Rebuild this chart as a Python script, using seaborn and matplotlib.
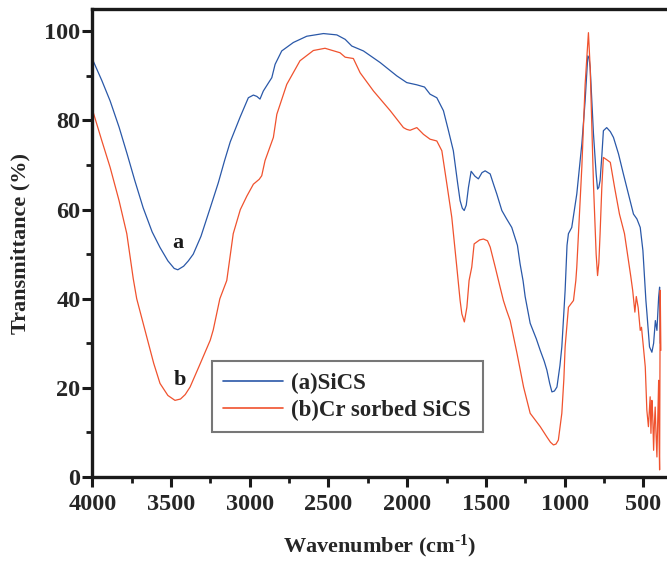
import matplotlib
matplotlib.use("Agg")
import matplotlib.pyplot as plt
import numpy as np
import pandas as pd
import seaborn as sns
from matplotlib.ticker import MultipleLocator

# ─────────────────────────────────────────────
# Data
# ─────────────────────────────────────────────
sics_wn = [
    4000, 3940, 3887, 3830, 3779, 3730, 3677, 3620, 3570, 3520, 3480, 3457,
    3420, 3390, 3359, 3310, 3251, 3200, 3160, 3124, 3062, 3009, 2977, 2955,
    2935, 2914, 2880, 2860, 2839, 2797, 2723, 2638, 2532, 2447, 2394, 2352,
    2278, 2172, 2066, 2003, 1939, 1890, 1855, 1812, 1770, 1740, 1707, 1680,
    1664, 1650, 1638, 1625, 1611, 1594, 1570, 1548, 1525, 1505, 1473, 1450,
    1431, 1399, 1370, 1336, 1300, 1283, 1264, 1251, 1219, 1180, 1155, 1130,
    1113, 1095, 1081, 1065, 1049, 1030, 1018, 1005, 997, 985, 976, 955, 923,
    891, 870, 853, 845, 838, 817, 800, 791, 783, 775, 764, 754, 733, 710,
    690, 658, 627, 595, 563, 541, 520, 503, 484, 478, 461, 446, 435, 424,
    414, 403, 397, 393,
]
sics_t = [
    93.8, 89.0, 84.4, 78.5, 72.5, 66.5, 60.4, 55.0, 51.5, 48.5, 46.8, 46.5,
    47.3, 48.5, 50.0, 54.0, 60.4, 66.0, 71.0, 75.2, 80.7, 85.1, 85.7, 85.4,
    84.8, 86.6, 88.5, 89.6, 92.6, 95.6, 97.5, 98.9, 99.5, 99.2, 98.2, 96.7,
    95.6, 93.0, 90.0, 88.5, 88.0, 87.5, 85.9, 85.1, 82.2, 78.0, 73.2, 66.0,
    62.0, 60.3, 59.8, 61.0, 65.0, 68.6, 67.5, 66.9, 68.3, 68.7, 68.0, 65.5,
    63.5, 59.8, 58.0, 56.0, 52.0, 47.8, 44.0, 40.5, 34.5, 31.0, 28.4, 26.0,
    24.0, 21.0, 19.1, 19.3, 20.2, 25.0, 29.2, 37.0, 41.9, 52.0, 54.6, 56.0,
    63.5, 74.7, 84.4, 94.5, 94.0, 91.9, 77.0, 68.0, 64.6, 65.0, 66.5, 72.0,
    77.7, 78.4, 77.5, 76.2, 72.5, 68.0, 63.5, 59.0, 57.9, 56.0, 50.8, 39.6,
    37.0, 29.2, 28.0, 30.0, 35.1, 32.9, 40.4, 42.6, 30.0,
]

cr_wn = [
    4000, 3940, 3887, 3830, 3781, 3740, 3718, 3654, 3610, 3570, 3520, 3475,
    3440, 3410, 3379, 3320, 3251, 3232, 3190, 3146, 3105, 3060, 3019, 2977,
    2940, 2924, 2903, 2850, 2828, 2765, 2681, 2596, 2522, 2427, 2394, 2342,
    2299, 2214, 2108, 2024, 2003, 1982, 1939, 1897, 1855, 1812, 1780, 1748,
    1717, 1685, 1664, 1653, 1637, 1621, 1607, 1590, 1575, 1540, 1516, 1490,
    1473, 1441, 1410, 1389, 1370, 1346, 1303, 1261, 1219, 1155, 1113, 1090,
    1071, 1055, 1040, 1018, 1005, 997, 976, 944, 929, 923, 891, 870, 849,
    838, 817, 800, 791, 783, 775, 764, 754, 733, 710, 683, 652, 620, 595,
    580, 568, 554, 545, 533, 520, 512, 500, 488, 478, 468, 457, 452, 446,
    441, 435, 430, 425, 420, 414, 408, 403, 400, 397, 393, 389,
]
cr_t = [
    82.5, 75.5, 69.5, 62.0, 54.6, 44.5, 40.0, 31.4, 25.5, 21.0, 18.3, 17.2,
    17.5, 18.5, 20.2, 25.0, 30.7, 33.0, 40.0, 44.1, 54.6, 60.0, 63.0, 65.7,
    66.8, 67.6, 71.0, 76.2, 81.4, 88.1, 93.4, 95.7, 96.2, 95.2, 94.2, 93.9,
    90.7, 86.6, 82.2, 78.4, 78.0, 77.8, 78.4, 76.9, 75.8, 75.4, 73.2, 65.7,
    58.3, 47.1, 39.6, 36.6, 34.8, 38.1, 44.1, 47.1, 52.3, 53.2, 53.4, 53.0,
    51.6, 47.1, 42.6, 39.6, 37.5, 35.1, 27.8, 20.2, 14.3, 11.3, 9.0, 7.8,
    7.2, 7.4, 8.3, 14.3, 22.0, 29.2, 38.1, 39.6, 44.1, 47.1, 69.5, 88.1,
    99.7, 91.9, 65.7, 50.0, 45.2, 48.0, 54.6, 65.0, 71.7, 71.2, 70.6, 65.0,
    59.0, 54.6, 48.6, 45.0, 41.9, 37.0, 40.5, 38.0, 32.9, 33.6, 29.2, 24.7,
    15.0, 11.3, 18.0, 9.8, 17.2, 14.0, 6.0, 12.0, 15.7, 10.0, 4.5, 14.0,
    21.7, 8.0, 1.6, 41.9, 28.4,
]

series_labels = ["(a)SiCS", "(b)Cr sorbed SiCS"]
series_colors = ["#2a58a8", "#f0522e"]

df = pd.concat(
    [
        pd.DataFrame({"wn": sics_wn, "t": sics_t, "sample": series_labels[0]}),
        pd.DataFrame({"wn": cr_wn, "t": cr_t, "sample": series_labels[1]}),
    ],
    ignore_index=True,
)

# ─────────────────────────────────────────────
# Plot
# ─────────────────────────────────────────────
sns.set_style("ticks")
plt.rcParams["font.family"] = ["Liberation Serif", "DejaVu Serif"]
plt.rcParams["font.weight"] = "bold"
plt.rcParams["axes.labelweight"] = "bold"
plt.rcParams["mathtext.fontset"] = "custom"
plt.rcParams["mathtext.rm"] = "Liberation Serif:bold"
plt.rcParams["mathtext.bf"] = "Liberation Serif:bold"
plt.rcParams["mathtext.default"] = "bf"

fig = plt.figure(figsize=(6.67, 5.62), dpi=100)
ax = fig.add_axes([0.1384, 0.1512, 0.8616, 0.8327])

sns.lineplot(
    data=df,
    x="wn",
    y="t",
    hue="sample",
    palette=dict(zip(series_labels, series_colors)),
    sort=False,
    estimator=None,
    linewidth=0.9,
    ax=ax,
)

ax.set_xlim(4000, 350)
ax.set_ylim(0, 105)
ax.xaxis.set_minor_locator(MultipleLocator(250))
ax.yaxis.set_major_locator(MultipleLocator(20))
ax.yaxis.set_minor_locator(MultipleLocator(10))
ax.set_xticks([4000, 3500, 3000, 2500, 2000, 1500, 1000, 500])

for side in ["left", "bottom", "top"]:
    ax.spines[side].set_linewidth(2.4)
    ax.spines[side].set_color("#1a1a1a")
ax.spines["right"].set_visible(False)

ax.tick_params(which="major", direction="out", length=7, width=2.2,
               labelsize=17.5, color="#1a1a1a")
ax.tick_params(which="minor", direction="out", length=4.5, width=2.0,
               color="#1a1a1a")
ax.tick_params(axis="x", which="major", pad=5)
ax.tick_params(axis="y", which="major", pad=1.5)
ax.tick_params(top=False, which="both")
for lbl in ax.get_xticklabels() + ax.get_yticklabels():
    lbl.set_fontweight("bold")

ax.set_xlabel("Wavenumber (cm$^{\\text{-}1}$)", fontsize=16,
              fontweight="bold", labelpad=13)
ax.set_ylabel("Transmittance (%)", fontsize=16, fontweight="bold",
              labelpad=10)

ax.text(3456, 52.4, "a", fontsize=16, fontweight="bold",
        ha="center", va="center", color="#1a1a1a")
ax.text(3442, 21.7, "b", fontsize=16, fontweight="bold",
        ha="center", va="center", color="#1a1a1a")

leg = ax.legend(
    loc="lower left",
    bbox_to_anchor=(0.208, 0.096, 0.472, 0.156),
    mode="expand",
    borderaxespad=0,
    frameon=True,
    fancybox=False,
    handlelength=2.6,
    handletextpad=0.35,
    borderpad=0.5,
    labelspacing=0.25,
    prop={"family": "Liberation Serif", "weight": "bold", "size": 16.5},
)
leg.get_frame().set_edgecolor("#555555")
leg.get_frame().set_linewidth(1.5)
for line in leg.get_lines():
    line.set_linewidth(1.2)

fig.savefig("out.png", dpi=100)
